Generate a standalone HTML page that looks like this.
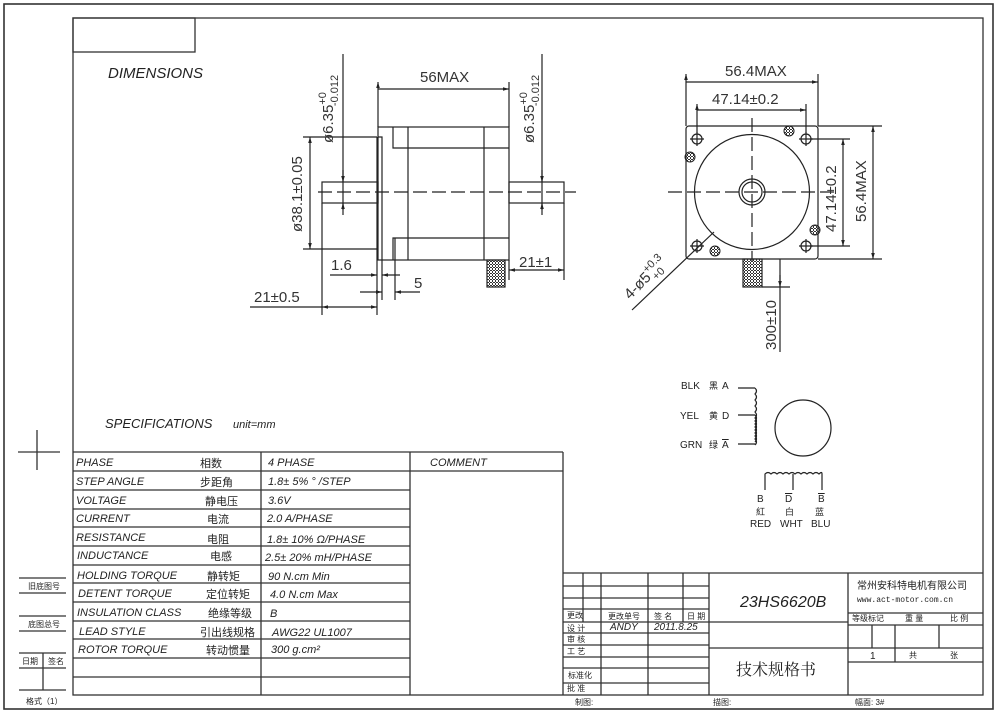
<!DOCTYPE html>
<html><head><meta charset="utf-8"><style>
html,body{margin:0;padding:0;background:#fff;}
svg{display:block;}
text{font-family:"Liberation Sans","Noto Sans CJK SC",sans-serif;fill:#222;}
.it{font-style:italic;}
.dim{font-family:"Liberation Sans",sans-serif;font-size:15px;fill:#333;}
</style></head><body>
<svg width="1000" height="718" viewBox="0 0 1000 718" xmlns="http://www.w3.org/2000/svg">
<defs>
<marker id="a" viewBox="0 0 10 10" refX="10" refY="5" markerWidth="7" markerHeight="5" orient="auto-start-reverse"><path d="M0,2 L10,5 L0,8z" fill="#222"/></marker>
<pattern id="h" width="3" height="3" patternUnits="userSpaceOnUse"><path d="M0,0h3v1H0z M0,0v3h1V0z" fill="#333"/></pattern>
</defs>
<g fill="none" stroke="#333" stroke-width="1.3">
<rect x="4" y="4" width="989" height="705" stroke-width="1.6"/>
<rect x="73" y="18" width="910" height="677" stroke-width="1.3"/>
<rect x="73" y="18" width="122" height="34"/>
<path d="M37,430V470M18,452H60"/>
<path d="M19,578H66M19,593H66M19,616H66M19,631H66M19,653H66M19,668H66M19,690H66M43,653V690"/>
<path d="M73,452H563M73,471H563M73,490H410M73,509H410M73,527H410M73,546H410M73,565H410M73,583H410M73,602H410M73,621H410M73,639H410M73,658H410M73,677H410M261,452V695M410,452V695M563,452V695"/>
<path d="M563,573H983M563,586H709M563,598H709M563,609H709M563,622H848M563,633H709M563,645H709M563,657H709M563,668H709M563,683H709M709,648H848M848,613H983M848,625H983M848,648H983M848,662H983"/>
<path d="M583,573V622M601,573V695M648,573V695M683,573V622M709,573V695M848,573V695M872,625V648M895,625V662M939,625V648"/>
</g>
<text x="108" y="78" font-size="15" class="it">DIMENSIONS</text>
<text x="105" y="428" font-size="13" class="it">SPECIFICATIONS</text>
<text x="233" y="428" font-size="11" class="it">unit=mm</text>
<g font-size="11" class="it">
<text x="76" y="466">PHASE</text><text x="76" y="485">STEP ANGLE</text><text x="76" y="504">VOLTAGE</text><text x="76" y="522">CURRENT</text><text x="76" y="541">RESISTANCE</text><text x="77" y="559">INDUCTANCE</text><text x="77" y="579">HOLDING TORQUE</text><text x="78" y="597">DETENT TORQUE</text><text x="77" y="616">INSULATION CLASS</text><text x="79" y="635">LEAD STYLE</text><text x="78" y="653">ROTOR TORQUE</text>
<text x="268" y="466">4  PHASE</text><text x="268" y="485">1.8± 5% ° /STEP</text><text x="268" y="504">3.6V</text><text x="267" y="522">2.0 A/PHASE</text><text x="267" y="543">1.8± 10%  Ω/PHASE</text><text x="265" y="561">2.5± 20% mH/PHASE</text><text x="268" y="580">90  N.cm Min</text><text x="270" y="598">4.0 N.cm Max</text><text x="270" y="617">B</text><text x="272" y="636">AWG22 UL1007</text><text x="271" y="653">300 g.cm²</text>
<text x="430" y="466">COMMENT</text>
</g>
<g font-size="11" fill="#444">
<text x="200" y="467">相数</text><text x="200" y="486">步距角</text><text x="205" y="505">静电压</text><text x="207" y="523">电流</text><text x="207" y="543">电阻</text><text x="210" y="560">电感</text><text x="207" y="580">静转矩</text><text x="206" y="598">定位转矩</text><text x="208" y="617">绝缘等级</text><text x="200" y="636">引出线规格</text><text x="206" y="654">转动惯量</text>
</g>
<g font-size="8" fill="#555">
<text x="28" y="589">旧底图号</text><text x="28" y="627">底图总号</text><text x="22" y="664">日期</text><text x="48" y="664">签名</text><text x="26" y="704">格式（1）</text>
<text x="567" y="618">更改</text><text x="608" y="619">更改单号</text><text x="654" y="619">签 名</text><text x="687" y="619">日 期</text>
<text x="567" y="631">设  计</text><text x="567" y="642">审  核</text><text x="567" y="654">工  艺</text><text x="568" y="678">标准化</text><text x="567" y="691">批  准</text>
<text x="575" y="705">制图:</text><text x="713" y="705">描图:</text><text x="855" y="705">幅面: 3#</text>
<text x="852" y="621">等级标记</text><text x="905" y="621">重  量</text><text x="950" y="621">比   例</text>
<text x="909" y="658">共</text><text x="950" y="658">张</text>
</g>
<text x="610" y="630" font-size="10" class="it">ANDY</text>
<text x="654" y="630" font-size="10" class="it">2011.8.25</text>
<text x="870" y="659" font-size="10">1</text>
<text x="740" y="607" font-size="16" class="it">23HS6620B</text>
<text x="736" y="675" font-size="16" fill="#333" style="font-family:'Noto Serif CJK SC',serif">技术规格书</text>
<text x="857" y="589" font-size="10" fill="#444">常州安科特电机有限公司</text>
<text x="857" y="602" font-size="8" fill="#555" style="font-family:'Liberation Mono',monospace">www.act-motor.com.cn</text>

<g fill="none" stroke="#222" stroke-width="1.2">
<rect x="378" y="127" width="131" height="133"/>
<path d="M377,137V249M378,137H382V249"/>
<path d="M393,127V148H509M393,260V238H509M408,127V260M484,127V260"/>
<rect x="322" y="182" width="56" height="21"/>
<rect x="509" y="182" width="55" height="21"/>
<path d="M318,192H576" stroke-dasharray="14,5"/>
<path d="M378,82V127M509,82V127M378,89H509" marker-start="url(#a)" marker-end="url(#a)"/>
<path d="M303,137H377M303,249H377"/>
<path d="M310,137V249" marker-start="url(#a)" marker-end="url(#a)"/>
<path d="M343,54V210"/>
<path d="M343,170V182" marker-end="url(#a)"/><path d="M343,215V203" marker-end="url(#a)"/>
<path d="M542,54V210"/>
<path d="M542,170V182" marker-end="url(#a)"/><path d="M542,215V203" marker-end="url(#a)"/>
<path d="M322,203V315M377,249V315M382,249V300M395,238V300M509,260V280M564,203V280"/>
<path d="M322,307H377" marker-start="url(#a)" marker-end="url(#a)"/><path d="M250,307H322"/>
<path d="M330,275H377" marker-end="url(#a)"/><path d="M400,275H382" marker-end="url(#a)"/>
<path d="M360,292H382" marker-end="url(#a)"/><path d="M420,292H395" marker-end="url(#a)"/>
<path d="M509,270H564" marker-start="url(#a)" marker-end="url(#a)"/>
<rect x="487" y="260" width="18" height="27" fill="url(#h)"/>
</g>
<text x="420" y="82" class="dim">56MAX</text>
<text x="333" y="143" class="dim" transform="rotate(-90 333 143)">ø6.35<tspan font-size="11" dy="-7">+0</tspan><tspan font-size="11" dx="-14" dy="12">-0.012</tspan></text>
<text x="534" y="143" class="dim" transform="rotate(-90 534 143)">ø6.35<tspan font-size="11" dy="-7">+0</tspan><tspan font-size="11" dx="-14" dy="12">-0.012</tspan></text>
<text x="302" y="232" class="dim" transform="rotate(-90 302 232)">ø38.1±0.05</text>
<text x="331" y="270" class="dim">1.6</text>
<text x="414" y="288" class="dim">5</text>
<text x="254" y="302" class="dim">21±0.5</text>
<text x="519" y="267" class="dim">21±1</text>

<g fill="none" stroke="#222" stroke-width="1.2">
<rect x="686" y="126" width="132" height="133" rx="3"/>
<circle cx="752" cy="192" r="57.5"/>
<circle cx="752" cy="192" r="13"/><circle cx="752" cy="192" r="10"/>
<path d="M752,118V262M668,192H836" stroke-dasharray="14,5"/>
<circle cx="697" cy="139" r="5"/><circle cx="806" cy="139" r="5"/><circle cx="697" cy="246" r="5"/><circle cx="806" cy="246" r="5"/>
<path d="M690,139H704M697,132V146M799,139H813M806,132V146M690,246H704M697,239V253M799,246H813M806,239V253"/>
<path d="M686,74V126M818,74V126M686,82H818" marker-start="url(#a)" marker-end="url(#a)"/>
<path d="M697,104V133M806,104V133M697,110H806" marker-start="url(#a)" marker-end="url(#a)"/>
<path d="M818,126H882M818,259H882M810,139H850M810,246H850"/>
<path d="M843,139V246" marker-start="url(#a)" marker-end="url(#a)"/>
<path d="M873,126V259" marker-start="url(#a)" marker-end="url(#a)"/>
<path d="M714,232L632,310"/>
<path d="M762,287H790"/>
<path d="M780,259V352"/>
<path d="M780,275V287" marker-end="url(#a)"/>
<rect x="743" y="259" width="19" height="28" fill="url(#h)"/>
</g>
<g fill="url(#h)" stroke="#222"><circle cx="789" cy="131" r="5"/><circle cx="690" cy="157" r="5"/><circle cx="815" cy="230" r="5"/><circle cx="715" cy="251" r="5"/></g>
<text x="725" y="76" class="dim">56.4MAX</text>
<text x="712" y="104" class="dim">47.14±0.2</text>
<text x="836" y="232" class="dim" transform="rotate(-90 836 232)">47.14±0.2</text>
<text x="866" y="222" class="dim" transform="rotate(-90 866 222)">56.4MAX</text>
<text x="776" y="350" class="dim" transform="rotate(-90 776 350)">300±10</text>
<text x="630" y="300" class="dim" transform="rotate(-45 630 300)">4-ø5<tspan font-size="11" dy="-7">+0.3</tspan><tspan font-size="11" dx="-20" dy="12">+0</tspan></text>

<g fill="none" stroke="#222" stroke-width="1.2">
<path d="M738,388H755M738,415H755M738,444H755"/>
<path d="M755,388 q3,3 0,6 q3,3 0,6 q3,3 0,6 q3,3 0,6 q3,3 0,6 q3,3 0,6 q3,3 0,6 q3,3 0,6 q3,3 0,6"/>
<path d="M755,415 q3,3 0,6 q3,3 0,6 q3,3 0,6 q3,3 0,6 q3,3 0,6"/>
<circle cx="803" cy="428" r="28"/>
<path d="M765,490V474 q3,-3 6,0 q3,-3 6,0 q3,-3 6,0 q3,-3 6,0 q3,-3 6,0 q3,-3 6,0 q3,-3 6,0 q3,-3 6,0 q3,-3 6,0 q3,-3 3,0 V490M793,474V490"/>
</g>
<g font-size="10">
<text x="681" y="389">BLK</text><text x="709" y="389" font-size="9">黑</text><text x="722" y="389">A</text>
<text x="680" y="419">YEL</text><text x="709" y="419" font-size="9">黄</text><text x="722" y="419">D</text>
<text x="680" y="448">GRN</text><text x="709" y="448" font-size="9">绿</text><text x="722" y="448" text-decoration="overline">A</text>
<text x="757" y="502">B</text><text x="785" y="502" text-decoration="overline">D</text><text x="818" y="502" text-decoration="overline">B</text>
<text x="756" y="515" font-size="9">紅</text><text x="785" y="515" font-size="9">白</text><text x="815" y="515" font-size="9">蓝</text>
<text x="750" y="527">RED</text><text x="780" y="527">WHT</text><text x="811" y="527">BLU</text>
</g>
</svg>
</body></html>
